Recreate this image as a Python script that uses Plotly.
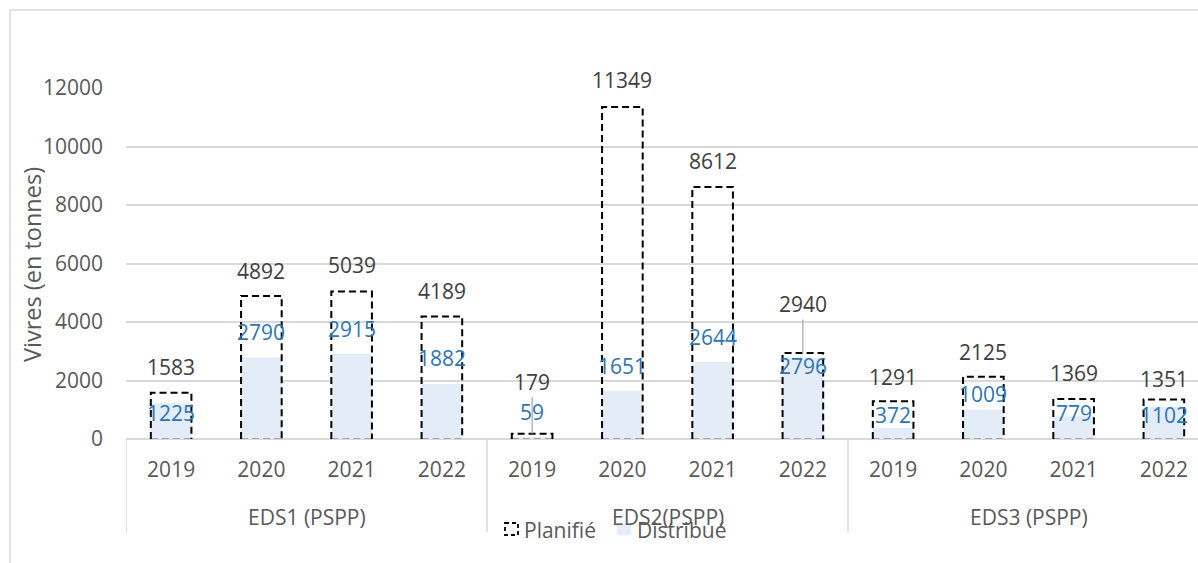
import plotly.graph_objects as go

# Données : vivres planifiés et distribués (tonnes) par programme et par année
groups = ["EDS1 (PSPP)", "EDS2(PSPP)", "EDS3 (PSPP)"]
years = ["2019", "2020", "2021", "2022"]
planifie = [1583, 4892, 5039, 4189, 179, 11349, 8612, 2940, 1291, 2125, 1369, 1351]
distribue = [1225, 2790, 2915, 1882, 59, 1651, 2644, 2796, 372, 1009, 779, 1102]

# Décalage vertical (px) des étiquettes au-dessus du sommet des barres
plan_shift = [26, 25, 27, 25, 52, 27, 26, 49, 24, 25, 26, 20]
dist_shift = [-10, 25, 25, 26, 25, 25, 25, -9, 13, 15, 3, -8]

FONT = "Open Sans"
FS = 21
FS_TITLE = 23.5
GREY_TXT = "#595959"
DARK_TXT = "#404040"
BLUE_TXT = "#2E75B6"
GRID = "#D9D9D9"
BAR_FILL = "#E4ECF7"
BAR_W = 0.45

n = len(groups) * len(years)
pos = list(range(n))
ticktext = years * len(groups)

# Plot area geometry (pixels)
W, H = 1198, 563
L, T, B = 126, 88, 124
PW, PH = W - L, H - T - B
cat_px = 90.25
x_max = -0.5 + PW / cat_px


def px_x(px):
    return (px - L) / PW


def px_y(py):
    return (H - B - py) / PH


fig = go.Figure()

fig.add_trace(go.Bar(
    x=pos, y=distribue, width=BAR_W, name="Distribué",
    marker=dict(color=BAR_FILL, line=dict(width=0)),
    showlegend=False, hoverinfo="y",
))

# Contours en pointillés des barres "Planifié"
sx, sy, bx, by = [], [], [], []
for p, v in zip(pos, planifie):
    x0, x1 = p - BAR_W / 2, p + BAR_W / 2
    sx += [x0, x0, x1, x1, None]
    sy += [0, v, v, 0, None]
    bx += [x0, x1, None]
    by += [0, 0, None]

fig.add_trace(go.Scatter(
    x=bx, y=by, mode="lines", showlegend=False, hoverinfo="skip",
    line=dict(color="#A6A6A6", width=2, dash="7px,4px"),
))
fig.add_trace(go.Scatter(
    x=sx, y=sy, mode="lines", name="Planifié", showlegend=False,
    line=dict(color="#000000", width=2, dash="7px,4px"),
    cliponaxis=False, hoverinfo="skip",
))

annotations = []
for p, v, s in zip(pos, planifie, plan_shift):
    if s > 40:
        annotations.append(dict(
            x=p, y=v, xref="x", yref="y", text=str(v), showarrow=True,
            ax=0, ay=-s, arrowhead=0, arrowwidth=1.2, arrowcolor="#A6A6A6",
            standoff=0, font=dict(family=FONT, size=FS, color=DARK_TXT),
        ))
    else:
        annotations.append(dict(
            x=p, y=v, xref="x", yref="y", text=str(v), showarrow=False,
            yshift=s, yanchor="middle",
            font=dict(family=FONT, size=FS, color=DARK_TXT),
        ))
for p, v, s in zip(pos, distribue, dist_shift):
    annotations.append(dict(
        x=p, y=v, xref="x", yref="y", text=str(v), showarrow=False,
        yshift=s, yanchor="middle",
        font=dict(family=FONT, size=FS, color=BLUE_TXT),
    ))

# Libellés de groupes sous l'axe
for i, g in enumerate(groups):
    annotations.append(dict(
        x=i * len(years) + (len(years) - 1) / 2, y=px_y(517),
        xref="x", yref="paper", text=g, showarrow=False, yanchor="middle",
        font=dict(family=FONT, size=FS, color=GREY_TXT),
    ))

# Titre de l'axe des ordonnées
annotations.append(dict(
    x=px_x(32), y=px_y(265), xref="paper", yref="paper",
    text="Vivres (en tonnes)", textangle=-90, showarrow=False,
    xanchor="center", yanchor="middle",
    font=dict(family=FONT, size=FS_TITLE, color=GREY_TXT),
))

# Légende
annotations.append(dict(
    x=px_x(522), y=px_y(530), xref="paper", yref="paper", text="Planifié",
    showarrow=False, xanchor="left", yanchor="middle",
    font=dict(family=FONT, size=FS, color=GREY_TXT),
))
annotations.append(dict(
    x=px_x(635), y=px_y(530), xref="paper", yref="paper", text="Distribué",
    showarrow=False, xanchor="left", yanchor="middle",
    font=dict(family=FONT, size=FS, color=GREY_TXT),
))

shapes = []
# Séparateurs de groupes
for k in range(len(groups)):
    xs = k * len(years) - 0.5
    shapes.append(dict(
        type="line", xref="x", yref="paper", x0=xs, x1=xs,
        y0=0, y1=px_y(532), line=dict(color=GRID, width=1.5),
    ))
# Cadre du graphique
shapes.append(dict(type="line", xref="paper", yref="paper",
                   x0=px_x(10), x1=px_x(W), y0=px_y(10), y1=px_y(10),
                   line=dict(color=GRID, width=1.5)))
shapes.append(dict(type="line", xref="paper", yref="paper",
                   x0=px_x(10), x1=px_x(10), y0=px_y(10), y1=px_y(H),
                   line=dict(color=GRID, width=1.5)))
# Symboles de la légende
shapes.append(dict(type="rect", xref="paper", yref="paper",
                   x0=px_x(505), x1=px_x(518), y0=px_y(523), y1=px_y(535),
                   line=dict(color="#000000", width=1.8, dash="4px,3px"),
                   fillcolor="rgba(0,0,0,0)"))
shapes.append(dict(type="rect", xref="paper", yref="paper",
                   x0=px_x(617), x1=px_x(631), y0=px_y(523), y1=px_y(535),
                   line=dict(width=0), fillcolor=BAR_FILL))

fig.update_layout(
    width=W, height=H,
    margin=dict(l=L, r=0, t=T, b=B, pad=0),
    paper_bgcolor="white", plot_bgcolor="white",
    showlegend=False,
    barmode="overlay",
    font=dict(family=FONT, size=FS, color=GREY_TXT),
    xaxis=dict(
        range=[-0.5, x_max], tickmode="array", tickvals=pos, ticktext=ticktext,
        showgrid=False, zeroline=False, showline=False, ticks="",
        ticklabelstandoff=16,
        tickfont=dict(family=FONT, size=FS, color=GREY_TXT),
        fixedrange=True,
    ),
    yaxis=dict(
        range=[0, 12000], dtick=2000, tickformat="d", showgrid=True,
        gridcolor=GRID, gridwidth=1.5, zeroline=True, zerolinecolor=GRID,
        zerolinewidth=1.5, showline=False, ticks="", ticklabelstandoff=22,
        tickfont=dict(family=FONT, size=FS, color=GREY_TXT),
        fixedrange=True,
    ),
    annotations=annotations,
    shapes=shapes,
)

fig.write_html("out.html")
